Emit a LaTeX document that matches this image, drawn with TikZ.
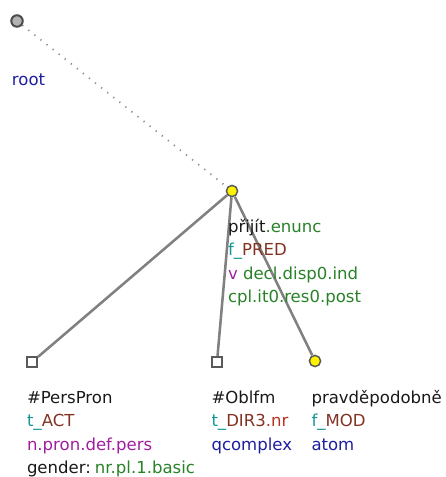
\documentclass[tikz,border=0pt]{standalone}
\usepackage{fontspec}
\setmainfont{DejaVu Sans}
\begin{document}
\begin{tikzpicture}[x=0.75pt,y=-0.75pt,
  every node/.style={font=\fontsize{12.4pt}{14pt}\selectfont},
  lbl/.style={anchor=base west,inner sep=0pt,outer sep=0pt},
  circnode/.style={circle,draw=black!65,line width=1.1pt,minimum size=8.4pt,inner sep=0pt},
  sqnode/.style={rectangle,draw=black!65,line width=1.1pt,fill=white,minimum size=7.8pt,inner sep=0pt},
  edge/.style={draw=black!50,line width=1.9pt},
  rootedge/.style={draw=black!45,line width=1.3pt,dash pattern=on 0.9pt off 4.9pt}]
\definecolor{tblack}{RGB}{25,25,25}
\definecolor{tteal}{RGB}{20,150,150}
\definecolor{tbrown}{RGB}{130,50,35}
\definecolor{tred}{RGB}{180,50,30}
\definecolor{tpurple}{RGB}{160,30,160}
\definecolor{tgreen}{RGB}{40,130,40}
\definecolor{tblue}{RGB}{30,30,160}
\useasboundingbox (0,0) rectangle (445,477);
% nodes
\node[circnode,fill=black!30,draw=black!70,line width=1.5pt,minimum size=8.6pt] (root) at (17,21) {};
\node[circnode,fill=yellow] (pred) at (232,191) {};
\node[sqnode] (act) at (32,362) {};
\node[sqnode] (dir) at (217,362) {};
\node[circnode,fill=yellow] (mod) at (315,361) {};
% edges
\draw[rootedge] (root) -- (pred);
\draw[edge] (pred) -- (act);
\draw[edge] (pred) -- (dir);
\draw[edge] (pred) -- (mod);
% labels
\node[lbl,text=tblue] (lroot) at (12,86) {root};
\node[lbl] (p1) at (228,232) {\textcolor{tblack}{přijít}\textcolor{tgreen}{.enunc}};
\node[lbl] (p2) at (228,255.5) {\textcolor{tteal}{f\_}\textcolor{tbrown}{PRED}};
\node[lbl] (p3) at (228,279) {\textcolor{tpurple}{v} \textcolor{tgreen}{decl.disp0.ind}};
\node[lbl,text=tgreen] (p4) at (228,302.5) {cpl.it0.res0.post};
\node[lbl,text=tblack] (a1) at (27,403) {\#PersPron};
\node[lbl] (a2) at (27,426.5) {\textcolor{tteal}{t\_}\textcolor{tbrown}{ACT}};
\node[lbl,text=tpurple] (a3) at (27,450) {n.pron.def.pers};
\node[lbl] (a4) at (27,473.5) {\textcolor{tblack}{gender:}\hspace{3pt}\textcolor{tgreen}{nr.pl.1.basic}};
\node[lbl,text=tblack] (d1) at (211.5,403) {\#Oblfm};
\node[lbl] (d2) at (211.5,426.5) {\textcolor{tteal}{t\_}\textcolor{tbrown}{DIR3}\textcolor{tred}{.nr}};
\node[lbl,text=tblue] (d3) at (211.5,450) {qcomplex};
\node[lbl,text=tblack] (m1) at (311.5,403) {pravděpodobně};
\node[lbl] (m2) at (311.5,426.5) {\textcolor{tteal}{f\_}\textcolor{tbrown}{MOD}};
\node[lbl,text=tblue] (m3) at (311.5,450) {atom};
\end{tikzpicture}
\end{document}
